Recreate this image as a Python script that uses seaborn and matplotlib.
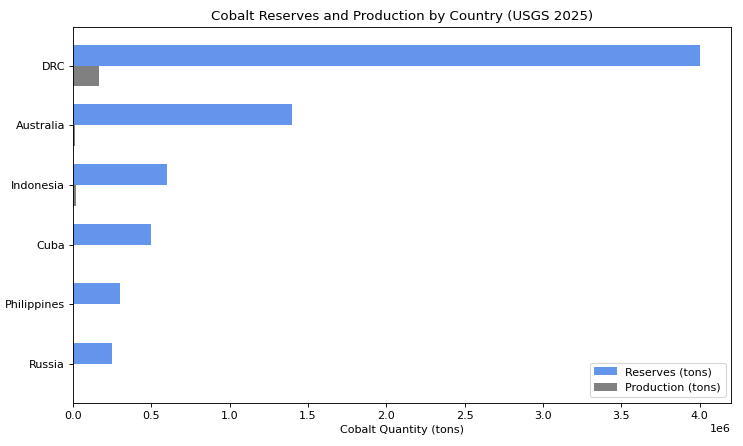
import matplotlib; matplotlib.use("Agg")
import numpy as np
import pandas as pd
import matplotlib.pyplot as plt
import seaborn as sns

countries = ["DRC", "Australia", "Indonesia", "Cuba", "Philippines", "Russia"]
reserves = [4000000, 1400000, 600000, 500000, 300000, 250000]
production = [170000, 12000, 18000, 0, 0, 0]

df = pd.DataFrame({
    "country": countries * 2,
    "value": reserves + production,
    "series": ["Reserves (tons)"] * len(countries) + ["Production (tons)"] * len(countries),
})

fig, ax = plt.subplots(figsize=(743 / 80, 446 / 80), dpi=80)
sns.barplot(data=df, y="country", x="value", hue="series", order=countries,
            hue_order=["Reserves (tons)", "Production (tons)"],
            palette=["cornflowerblue", "gray"], saturation=1, orient="h",
            width=0.7, ax=ax)
ax.set_xlim(0, 4.2e6)
ax.set_ylim(5.65, -0.65)
ax.set_ylabel("")
ax.set_xlabel("Cobalt Quantity (tons)")
ax.set_title("Cobalt Reserves and Production by Country (USGS 2025)")
ax.legend(loc="lower right", title=None)
fig.subplots_adjust(left=0.098, right=0.984, top=0.94, bottom=0.097)
fig.savefig("out.png", dpi=80)
